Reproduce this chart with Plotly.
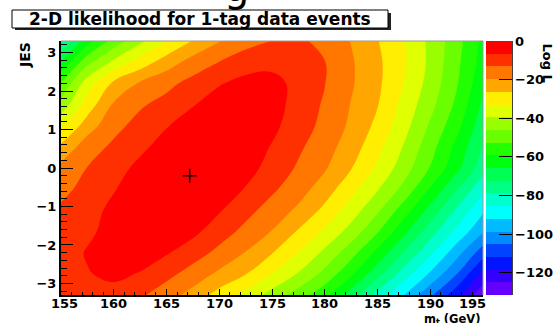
import plotly.graph_objects as go

# ---- data ----
mt_values = [155.0, 157.5, 160.0, 162.5, 165.0, 167.5, 170.0, 172.5, 175.0,
             177.5, 180.0, 182.5, 185.0, 187.5, 190.0, 192.5, 195.0]
jes_values = [-3.3, -2.75, -2.2, -1.65, -1.1, -0.55, 0.0, 0.55, 1.1, 1.65, 2.2, 2.75, 3.3]
log_l = [
    [-11, -9, -9, -12, -17, -22, -29, -35, -42, -49, -57, -69, -81, -92, -104, -116, -130],
    [-10, -7, -5, -7, -11, -16, -21, -26, -33, -40, -48, -58, -70, -82, -93, -105, -120],
    [-10, -6, -4, -3, -6, -10, -15, -20, -26, -33, -41, -50, -61, -73, -84, -96, -109],
    [-11, -8, -4, -2, -2, -5, -10, -15, -20, -27, -34, -42, -52, -64, -76, -87, -98],
    [-12, -9, -5, -2, -1, -2, -6, -11, -16, -21, -28, -36, -45, -56, -68, -80, -91],
    [-15, -11, -7, -3, -1, -1, -3, -7, -12, -17, -23, -31, -39, -48, -60, -72, -84],
    [-18, -13, -9, -5, -2, 0, -1, -4, -9, -14, -19, -26, -34, -43, -53, -64, -76],
    [-25, -16, -12, -8, -4, -1, -1, -3, -7, -12, -17, -23, -31, -40, -50, -61, -73],
    [-34, -23, -15, -11, -7, -3, -1, -2, -5, -10, -15, -21, -28, -37, -47, -57, -70],
    [-44, -30, -19, -14, -11, -7, -4, -2, -4, -9, -14, -20, -26, -35, -44, -54, -67],
    [-52, -36, -25, -19, -15, -11, -7, -5, -5, -8, -13, -19, -25, -33, -42, -52, -64],
    [-65, -48, -38, -30, -23, -17, -13, -9, -8, -9, -13, -19, -25, -32, -41, -51, -62],
    [-79, -62, -50, -41, -33, -26, -20, -16, -13, -12, -15, -20, -26, -33, -41, -50, -61],
]
best_fit_mt = [167.2]
best_fit_jes = [-0.2]
mt_ticks = [155, 160, 165, 170, 175, 180, 185, 190, 195]
jes_ticks = [-3, -2, -1, 0, 1, 2, 3]
logl_ticks = [0, -20, -40, -60, -80, -100, -120]
logl_min, logl_max, n_levels = -131.6, 0.0, 20

# ROOT "pretty" palette, one colour per contour band (lowest to highest)
band_colors = ["rgb(99,0,255)", "rgb(51,0,255)", "rgb(0,20,255)", "rgb(0,68,255)", "rgb(0,139,255)",
               "rgb(0,187,255)", "rgb(0,255,252)", "rgb(0,255,204)", "rgb(0,255,133)", "rgb(0,255,85)",
               "rgb(0,255,14)", "rgb(34,255,0)", "rgb(105,255,0)", "rgb(153,255,0)", "rgb(224,255,0)",
               "rgb(255,238,0)", "rgb(255,167,0)", "rgb(255,119,0)", "rgb(255,48,0)", "rgb(255,0,0)"]

cs = (logl_max - logl_min) / n_levels
L, R, T, B = 61, 483, 41, 295
def px(p): return (p - L) / (R - L)
def py(p): return (B - p) / (B - T)

FONT = "DejaVu Sans"
fig = go.Figure()
fig.add_trace(go.Contour(
    x=mt_values, y=jes_values, z=log_l, zmin=logl_min, zmax=logl_max, autocontour=False,
    contours=dict(start=logl_min + cs, end=logl_max - cs / 2, size=cs, coloring="fill", showlines=False),
    line=dict(width=0, smoothing=1.2),
    colorscale=[[i / (n_levels - 1), c] for i, c in enumerate(band_colors)],
    colorbar=dict(x=px(486), xanchor="left", y=0, yanchor="bottom", len=1, lenmode="fraction",
                  thickness=26, thicknessmode="pixels", xpad=0, ypad=0, outlinewidth=0,
                  ticks="inside", ticklen=13, tickcolor="black", tickwidth=1,
                  tickvals=logl_ticks,
                  tickfont=dict(family=FONT, size=13, color="black", weight="bold")),
    hoverinfo="skip"))
fig.add_trace(go.Scatter(x=best_fit_mt, y=best_fit_jes, mode="markers",
                         marker=dict(symbol="cross-thin", size=10, line=dict(width=1.5, color="black")),
                         showlegend=False))

fig.update_xaxes(range=[155, 195], showgrid=False, zeroline=False, ticks="inside", tickvals=mt_ticks,
                 ticklen=6, tickcolor="black", tickwidth=1, showticklabels=False,
                 minor=dict(ticks="inside", dtick=1, tick0=155, ticklen=3, tickcolor="black"),
                 showline=True, linecolor="black", linewidth=2)
fig.update_yaxes(range=[-3.3, 3.3], showgrid=False, zeroline=False, ticks="inside",
                 tickvals=jes_ticks, ticklen=12, tickcolor="black", tickwidth=1,
                 minor=dict(ticks="inside", dtick=0.2, tick0=0, ticklen=6, tickcolor="black"),
                 tickfont=dict(family=FONT, size=13, color="black", weight="bold"),
                 showline=True, linecolor="black", linewidth=2)

shapes = [
    dict(type="line", xref="paper", yref="paper", x0=0, x1=1, y0=1, y1=1, line=dict(color="#999", width=1)),
    dict(type="line", xref="paper", yref="paper", x0=1, x1=1, y0=0, y1=1, line=dict(color="#999", width=1)),
    dict(type="line", xref="paper", yref="paper", x0=px(512), x1=px(512), y0=0, y1=1,
         line=dict(color="black", width=1.5)),
    dict(type="rect", xref="paper", yref="paper", x0=px(15), x1=px(391), y0=py(30), y1=py(13),
         fillcolor="#222", line=dict(width=0)),
    dict(type="rect", xref="paper", yref="paper", x0=px(12), x1=px(388), y0=py(28), y1=py(10),
         fillcolor="white", line=dict(color="black", width=1)),
]
ann = [
    dict(text="2-D likelihood for 1-tag data events", x=px(27), y=py(19.5), xanchor="left", yanchor="middle",
         font=dict(family=FONT, size=17, color="black", weight="bold")),
    dict(text="JES", x=px(25), y=py(40), xanchor="center", yanchor="top", textangle=-90,
         font=dict(family=FONT, size=14, color="black", weight="bold")),
    dict(text="Log L", x=px(547), y=py(41), xanchor="center", yanchor="top", textangle=90,
         font=dict(family=FONT, size=13, color="black", weight="bold")),
    dict(text="m<sub>t</sub> (GeV)", x=px(483), y=py(310), xanchor="right", yanchor="top",
         font=dict(family=FONT, size=11.5, color="black", weight="bold")),
    dict(text="g", x=px(236), y=py(12), xanchor="center", yanchor="bottom",
         font=dict(family=FONT, size=40, color="black")),
]
for v in mt_ticks:
    ann.append(dict(text=str(v), x=v, xref="x", y=py(303), yanchor="middle",
                    xshift=(-11 if v == 195 else (3 if v == 155 else 0)),
                    font=dict(family=FONT, size=13, color="black", weight="bold")))
for a in ann:
    a.setdefault("xref", "paper"); a.setdefault("yref", "paper"); a["showarrow"] = False

fig.update_layout(width=553, height=323,
                  margin=dict(l=L, r=553 - R, t=T, b=323 - B, autoexpand=False),
                  paper_bgcolor="white", plot_bgcolor="white", showlegend=False,
                  shapes=shapes, annotations=ann)
fig.write_html("out.html")
